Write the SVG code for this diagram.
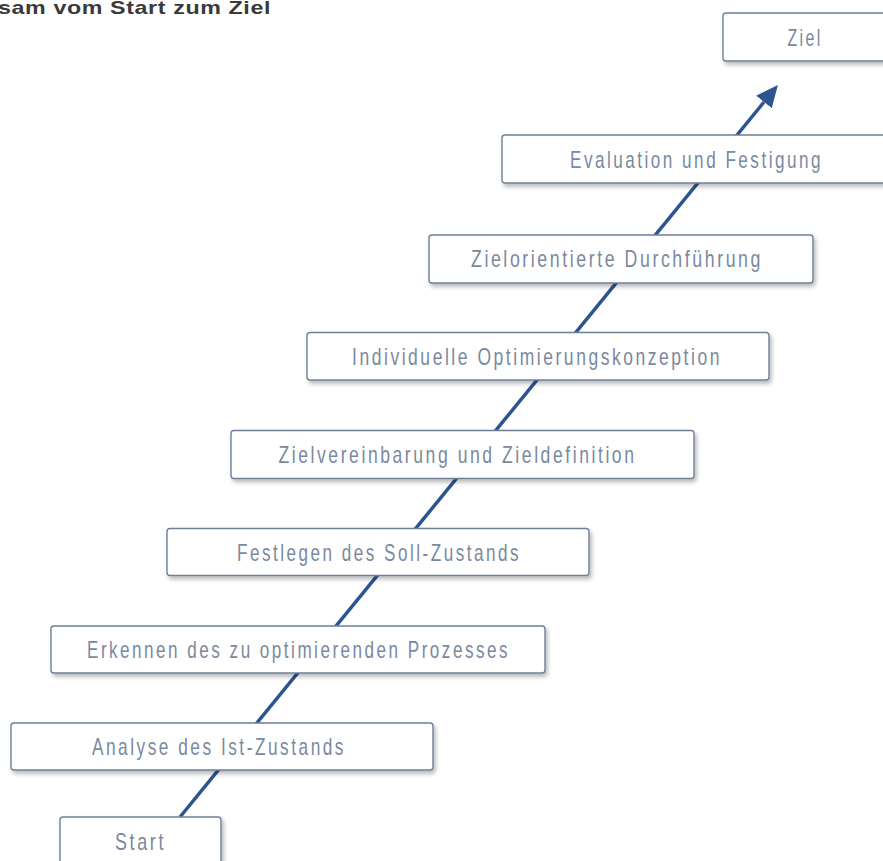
<svg xmlns="http://www.w3.org/2000/svg" width="883" height="861" viewBox="0 0 883 861">
  <style>
    .box { fill: #ffffff; stroke: #6f7f99; stroke-width: 1.4; filter: url(#shadow); }
    .lbl { font-family: "Liberation Sans Narrow", "Liberation Sans", "DejaVu Sans Condensed", sans-serif; font-size: 24px; fill: #7a89a0; letter-spacing: 3.5px; }
    .title { font-family: "Liberation Sans", "DejaVu Sans", sans-serif; font-weight: bold; font-size: 19px; fill: #3a3a3a; letter-spacing: 0.5px; }
    .path { stroke: #2c5590; stroke-width: 3.5; fill: none; }
  </style>
  <defs>
    <filter id="shadow" x="-10%" y="-30%" width="120%" height="170%">
      <feDropShadow dx="2" dy="3" stdDeviation="2" flood-color="#000000" flood-opacity="0.28"/>
    </filter>
    <marker id="arrow" markerUnits="userSpaceOnUse" markerWidth="24" markerHeight="22" refX="0" refY="11" orient="auto" viewBox="0 0 24 22">
      <path d="M0,1 L22,11 L0,21 z" fill="#2c5590"/>
    </marker>
  </defs>

  <rect width="883" height="861" fill="#ffffff"/>

  <text class="title" x="-2" y="13.5" textLength="273" lengthAdjust="spacingAndGlyphs">sam vom Start zum Ziel</text>

  <!-- rising path from Start to Ziel, drawn behind the steps -->
  <g id="connectors">
    <line class="path" x1="180" y1="817" x2="764" y2="102" marker-end="url(#arrow)"/>
  </g>

  <g id="start">
    <rect class="box" x="60" y="817" width="161" height="60" rx="3"/>
    <text class="lbl" x="115" y="850" textLength="51" lengthAdjust="spacingAndGlyphs">Start</text>
  </g>

  <g id="analyse">
    <rect class="box" x="11" y="723" width="422" height="47" rx="3"/>
    <text class="lbl" x="92" y="755" textLength="254" lengthAdjust="spacingAndGlyphs">Analyse des Ist-Zustands</text>
  </g>

  <g id="erkennen">
    <rect class="box" x="51" y="626" width="494" height="47" rx="3"/>
    <text class="lbl" x="87" y="658" textLength="423" lengthAdjust="spacingAndGlyphs">Erkennen des zu optimierenden Prozesses</text>
  </g>

  <g id="festlegen">
    <rect class="box" x="167" y="528.5" width="422" height="47" rx="3"/>
    <text class="lbl" x="237" y="560.5" textLength="284" lengthAdjust="spacingAndGlyphs">Festlegen des Soll-Zustands</text>
  </g>

  <g id="zielvereinbarung">
    <rect class="box" x="231" y="430.5" width="463" height="48" rx="3"/>
    <text class="lbl" x="278.5" y="463" textLength="358" lengthAdjust="spacingAndGlyphs">Zielvereinbarung und Zieldefinition</text>
  </g>

  <g id="optimierungskonzeption">
    <rect class="box" x="307" y="332.5" width="462" height="47.5" rx="3"/>
    <text class="lbl" x="352" y="364.5" textLength="370" lengthAdjust="spacingAndGlyphs">Individuelle Optimierungskonzeption</text>
  </g>

  <g id="durchfuehrung">
    <rect class="box" x="429" y="235" width="384" height="48" rx="3"/>
    <text class="lbl" x="471" y="267" textLength="292" lengthAdjust="spacingAndGlyphs">Zielorientierte Durchführung</text>
  </g>

  <g id="evaluation">
    <rect class="box" x="502" y="135" width="392" height="48" rx="3"/>
    <text class="lbl" x="570" y="167.5" textLength="253" lengthAdjust="spacingAndGlyphs">Evaluation und Festigung</text>
  </g>

  <g id="ziel">
    <rect class="box" x="723" y="13" width="170" height="48" rx="3"/>
    <text class="lbl" x="787.5" y="45.5" textLength="35" lengthAdjust="spacingAndGlyphs">Ziel</text>
  </g>
</svg>
